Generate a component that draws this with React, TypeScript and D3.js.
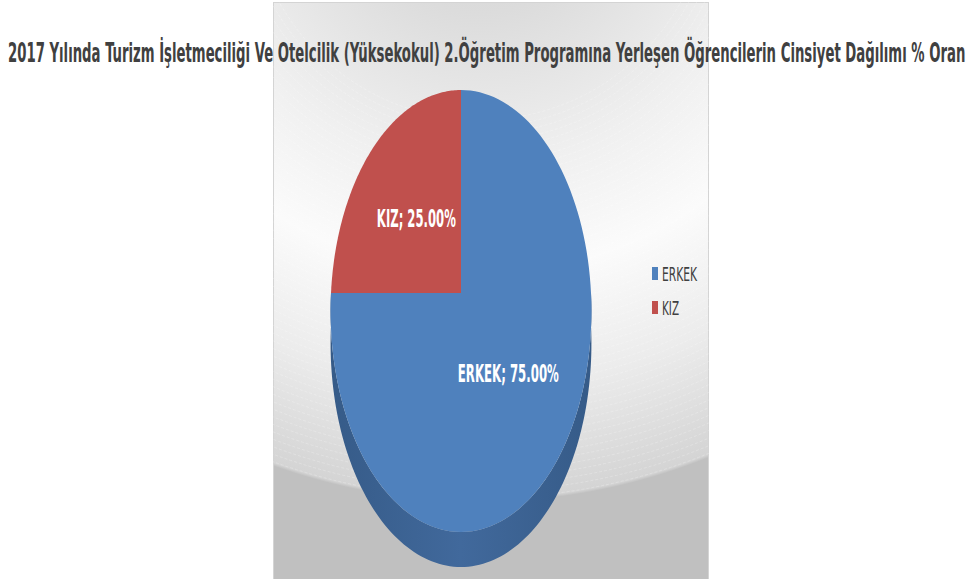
import React, { useLayoutEffect, useRef, useState } from "react";
import * as d3 from "d3";

const TITLE = "2017 Yılında Turizm İşletmeciliği Ve Otelcilik (Yüksekokul) 2.Öğretim Programına Yerleşen Öğrencilerin Cinsiyet Dağılımı % Oran";
const categories = ["ERKEK", "KIZ"];
const values = [75.0, 25.0];
const colors = ["#4f81bd", "#c0504d"];
const sideColors = ["#3f6899", "#98403d"];

const W = 973;
const H = 579;
const FONT = "'DejaVu Sans Condensed', 'DejaVu Sans', sans-serif";

// pie geometry (perspective projection of a tilted disc)
const CX = 461;
const CY = 293;
const RX = 130;
const RY = 219.5;
const K = 0.0814;
const DEPTH = 32.2;

function proj(theta: number, r = 1, depth = 0): [number, number] {
  const u = Math.sin(theta) * r;
  const vf = -Math.cos(theta) * r; // +1 = front (bottom of picture)
  const s = 1 / (1 - K * vf);
  return [CX + RX * u * s, CY + RY * vf * s + depth * s];
}

function arcPoints(a0: number, a1: number, depth = 0, n = 120): [number, number][] {
  const pts: [number, number][] = [];
  for (let i = 0; i <= n; i++) {
    const t = a0 + ((a1 - a0) * i) / n;
    pts.push(proj(t, 1, depth));
  }
  return pts;
}

const line = d3.line<[number, number]>();

function FitText(props: { x: number; y: number; width: number; anchor?: "start" | "middle"; children: string; [k: string]: any }) {
  const { x, y, width, anchor = "start", children, ...rest } = props;
  const ref = useRef<SVGTextElement>(null);
  const [sx, setSx] = useState(1);
  useLayoutEffect(() => {
    if (ref.current) {
      const w = ref.current.getComputedTextLength();
      if (w > 0) setSx(width / w);
    }
  }, [width, children]);
  return (
    <g transform={`translate(${x},${y}) scale(${sx},1)`}>
      <text ref={ref} x={0} y={0} textAnchor={anchor} {...rest}>
        {children}
      </text>
    </g>
  );
}

export default function App() {
  const pie = d3.pie<number>().sort(null).startAngle(0).endAngle(2 * Math.PI);
  const arcs = pie(values);

  const center = proj(0, 0);

  const sides = arcs.map((a, i) => {
    const s0 = Math.max(a.startAngle, Math.PI / 2);
    const s1 = Math.min(a.endAngle, (3 * Math.PI) / 2);
    if (s1 <= s0) return null;
    const top = arcPoints(s0, s1, 0);
    const bot = arcPoints(s0, s1, DEPTH).reverse();
    return { d: line([...top, ...bot])! + "Z", i };
  });

  const tops = arcs.map((a, i) => {
    const pts = [center, ...arcPoints(a.startAngle, a.endAngle, 0)];
    return { d: line(pts)! + "Z", i };
  });

  const labels = arcs.map((a, i) => {
    const mid = (a.startAngle + a.endAngle) / 2;
    const [x, y] = proj(mid, 0.5);
    return { x, y, text: `${categories[i]}; ${values[i].toFixed(2)}%`, i };
  });
  const labelLen = [101, 79];

  const gcx = 480, gcy = -110, gr = 618;
  const rings = d3.range(230, 612, 7);

  const legendX = 652;
  const legendY = [274, 308];
  const legendLen = [35, 17];

  return (
    <svg width={W} height={H} style={{ position: "absolute", left: 0, top: 0, display: "block" }}>
      <defs>
        <radialGradient id="bg" gradientUnits="userSpaceOnUse" cx={gcx} cy={gcy} r={gr}>
          <stop offset="0" stopColor="#d2d2d2" />
          <stop offset="0.2" stopColor="#dcdcdc" />
          <stop offset="0.45" stopColor="#f0f0f0" />
          <stop offset="0.62" stopColor="#fbfbfb" />
          <stop offset="0.8" stopColor="#ececec" />
          <stop offset="0.985" stopColor="#d4d4d4" />
          <stop offset="0.99" stopColor="#c0c0c0" />
          <stop offset="1" stopColor="#c0c0c0" />
        </radialGradient>
        <linearGradient id="side0" x1="0" x2="1" y1="0" y2="0">
          <stop offset="0" stopColor="#365b88" />
          <stop offset="0.5" stopColor="#41699c" />
          <stop offset="1" stopColor="#365b88" />
        </linearGradient>
        <clipPath id="panelClip">
          <rect x={273} y={2} width={436} height={577} />
        </clipPath>
      </defs>
      <rect x={273.5} y={2.5} width={435} height={577} fill="url(#bg)" stroke="#d4d4d4" />
      <g clipPath="url(#panelClip)">
        {rings.map((r) => (
          <circle key={r} cx={gcx} cy={gcy} r={r} fill="none" stroke="#ffffff" strokeOpacity={0.28} strokeDasharray="3 2" strokeWidth={0.8} />
        ))}
      </g>

      {sides.map((s) => s && (
        <path key={"s" + s.i} d={s.d} fill={s.i === 0 ? "url(#side0)" : sideColors[s.i]} />
      ))}
      {tops.map((t) => (
        <path key={"t" + t.i} d={t.d} fill={colors[t.i]} />
      ))}

      {labels.map((l) => (
        <FitText
          key={"l" + l.i}
          x={l.x}
          y={l.y + 9.5}
          width={labelLen[l.i]}
          anchor="middle"
          fill="#ffffff"
          fontFamily={FONT}
          fontWeight="bold"
          fontSize={25}
        >
          {l.text}
        </FitText>
      ))}

      {categories.map((c, i) => (
        <g key={"lg" + i}>
          <rect x={legendX} y={legendY[i] - 7} width={6} height={13} fill={colors[i]} />
          <FitText
            x={legendX + 10}
            y={legendY[i] + 7}
            width={legendLen[i]}
            fill="#404040"
            fontFamily={FONT}
            fontSize={19}
          >
            {c}
          </FitText>
        </g>
      ))}

      <FitText
        x={8}
        y={62}
        width={958}
        fill="#404040"
        fontFamily={FONT}
        fontWeight="bold"
        fontSize={27}
      >
        {TITLE}
      </FitText>
    </svg>
  );
}
